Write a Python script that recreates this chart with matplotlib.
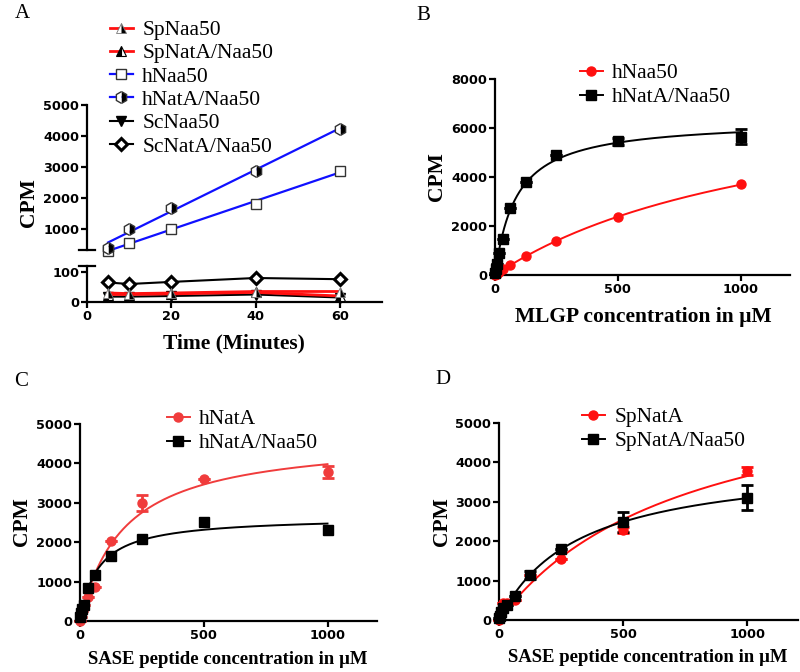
import numpy as np
import matplotlib
matplotlib.use("Agg")
import matplotlib.pyplot as plt
from matplotlib.lines import Line2D

# ---------------- data ----------------
# Panel A: time course (minutes)
time_min = [5, 10, 20, 40, 60]
a_hNaa50 = [280, 560, 1000, 1800, 2880]
a_hNatA_Naa50 = [400, 1000, 1680, 2880, 4230]
a_SpNaa50 = [30, 28, 30, 35, 35]
a_SpNatA_Naa50 = [25, 25, 27, 32, 20]
a_ScNaa50 = [18, 18, 20, 25, 15]
a_ScNatA_Naa50 = [65, 60, 67, 80, 76]

# Panel B: MLGP
conc = [0, 3.9, 7.8, 15.6, 31.25, 62.5, 125, 250, 500, 1000]
b_hNaa50 = [0, 30, 60, 110, 230, 420, 780, 1400, 2350, 3700]
b_hNatA_Naa50 = [100, 250, 450, 900, 1450, 2750, 3800, 4900, 5450, 5650]
b_hNatA_Naa50_err = [0, 0, 0, 0, 0, 0, 0, 0, 150, 320]

# Panel C: SASE, human
c_hNatA = [0, 100, 250, 400, 620, 870, 2020, 3000, 3600, 3780]
c_hNatA_err = [0, 0, 0, 0, 0, 0, 0, 200, 0, 150]
c_hNatA_Naa50 = [100, 200, 300, 400, 830, 1170, 1650, 2080, 2520, 2300]

# Panel D: SASE, S. pombe
d_SpNatA = [0, 100, 200, 420, 420, 500, 1150, 1540, 2280, 3780]
d_SpNatA_err = [0, 0, 0, 0, 0, 0, 0, 0, 70, 100]
d_SpNatA_Naa50 = [50, 100, 200, 300, 380, 600, 1150, 1800, 2480, 3100]
d_SpNatA_Naa50_err = [0, 0, 0, 0, 0, 0, 100, 0, 250, 320]

SERIF = "Liberation Serif"
TICKFONT = "DejaVu Sans"
RED = "#ff1010"
RED_C = "#f03c3c"
BLUE = "#1010ff"
LEGSIZE = 15.5


def mm_fit(x, y):
    x = np.asarray(x, float)
    y = np.asarray(y, float)
    Ks = np.linspace(1, 4000, 40000)
    F = x[None, :] / (Ks[:, None] + x[None, :])
    V = (F @ y) / (F * F).sum(1)
    sse = ((V[:, None] * F - y[None, :]) ** 2).sum(1)
    i = np.argmin(sse)
    return V[i], Ks[i]


def style_ax(ax):
    for s in ["top", "right"]:
        ax.spines[s].set_visible(False)
    for s in ["left", "bottom"]:
        ax.spines[s].set_linewidth(1.6)
    ax.tick_params(width=1.6, length=4, direction="out", pad=1.5)
    for lab in ax.get_xticklabels() + ax.get_yticklabels():
        lab.set_fontfamily(TICKFONT)
        lab.set_fontweight("bold")
        lab.set_fontsize(9.3)


fig = plt.figure(figsize=(8, 6.72), dpi=100)
W, H = 800.0, 672.0


def rect(l, r, t, b):
    return [l / W, 1 - b / H, (r - l) / W, (b - t) / H]


def ftext(x, y, s, **kw):
    fig.text(x / W, 1 - y / H, s, **kw)


def legend(handles, labels, x, y, spacing):
    fig.legend(handles, labels, loc="upper left", bbox_to_anchor=(x / W, 1 - y / H),
               frameon=False, borderpad=0, borderaxespad=0, handlelength=1.05,
               handletextpad=0.45, labelspacing=spacing,
               prop={"family": SERIF, "size": LEGSIZE})


# ---------------- Panel A ----------------
axA1 = fig.add_axes(rect(87, 382, 105, 250))
axA2 = fig.add_axes(rect(87, 382, 266, 302))

ms = 7.5
t = np.array(time_min, float)
xx = np.array([5, 60], float)
p1 = np.polyfit(t, a_hNaa50, 1)
p2 = np.polyfit(t, a_hNatA_Naa50, 1)
axA1.plot(xx, np.polyval(p1, xx), color=BLUE, lw=1.6, zorder=2)
axA1.plot(xx, np.polyval(p2, xx), color=BLUE, lw=1.6, zorder=2)
axA1.plot(t, a_hNaa50, ls="none", marker="s", ms=ms, mfc="white",
          mec="#333333", mew=1.0, clip_on=False, zorder=3)
axA1.plot(t, a_hNatA_Naa50, ls="none", marker="h", ms=ms + 1,
          fillstyle="right", mfc="black", mfcalt="white", mec="#333333",
          mew=1.0, clip_on=False, zorder=4)
axA1.set_xlim(0, 70)
axA1.set_ylim(320, 5000)
axA1.set_yticks([1000, 2000, 3000, 4000, 5000])
axA1.spines["bottom"].set_visible(False)
axA1.tick_params(axis="x", bottom=False, labelbottom=False)
style_ax(axA1)

kwl = dict(clip_on=False, zorder=5)
axA2.plot(t, a_ScNatA_Naa50, color="black", lw=1.5, marker="D", ms=6.5,
          mfc="white", mec="black", mew=2.2, **kwl)
axA2.plot(t, a_ScNaa50, color="black", lw=1.5, marker="v", ms=7, mfc="black",
          mec="black", **kwl)
axA2.plot(t, a_SpNatA_Naa50, color=RED, lw=2.0, marker="^", ms=7,
          fillstyle="left", mfc="black", mfcalt="white", mec="black", mew=0.8, **kwl)
axA2.plot(t, a_SpNaa50, color=RED, lw=2.0, marker="^", ms=7,
          fillstyle="right", mfc="black", mfcalt="white", mec="#777777", mew=0.6, **kwl)
axA2.set_xlim(0, 70)
axA2.set_ylim(0, 120)
axA2.set_yticks([0, 100])
axA2.set_xticks([0, 20, 40, 60])
style_ax(axA2)
for ax, yv in [(axA1, 320), (axA2, 120)]:
    ax.plot([-1.8, 1.8], [yv, yv], color="black", lw=1.6, clip_on=False)

legA = [
    Line2D([], [], color=RED, lw=2, marker="^", ms=7, fillstyle="right",
           mfc="black", mfcalt="white", mec="#777777", mew=0.6),
    Line2D([], [], color=RED, lw=2, marker="^", ms=7, fillstyle="left",
           mfc="black", mfcalt="white", mec="black", mew=0.8),
    Line2D([], [], color=BLUE, lw=1.6, marker="s", ms=ms, mfc="white", mec="#333333"),
    Line2D([], [], color=BLUE, lw=1.6, marker="h", ms=ms + 1, fillstyle="right",
           mfc="black", mfcalt="white", mec="#333333"),
    Line2D([], [], color="black", lw=1.5, marker="v", ms=7, mfc="black", mec="black"),
    Line2D([], [], color="black", lw=1.5, marker="D", ms=6.5, mfc="white",
           mec="black", mew=2.2),
]
labsA = ["SpNaa50", "SpNatA/Naa50", "hNaa50", "hNatA/Naa50", "ScNaa50", "ScNatA/Naa50"]
legend(legA, labsA, 110, 20, 0.15)

ftext(29, 203, "CPM", rotation=90, ha="center", va="center", family=SERIF,
      weight="bold", size=15.5)
ftext(234, 343, "Time (Minutes)", ha="center", va="center", family=SERIF,
      weight="bold", size=15.5)
ftext(22, 14, "A", ha="center", va="center", family=SERIF, size=15)

# ---------------- Panel B ----------------
axB = fig.add_axes(rect(495, 790, 79, 275))
cx = np.asarray(conc, float)
xs = np.linspace(0, 1000, 400)
V, K = mm_fit(cx, b_hNaa50)
axB.plot(xs, V * xs / (K + xs), color=RED, lw=1.4)
V, K = mm_fit(cx, b_hNatA_Naa50)
axB.plot(xs, V * xs / (K + xs), color="black", lw=1.4)
axB.errorbar(cx, b_hNaa50, ls="none", marker="o", ms=6.5, color=RED,
             clip_on=False, zorder=4)
axB.errorbar(cx, b_hNatA_Naa50, yerr=b_hNatA_Naa50_err, ls="none", marker="s",
             ms=6.5, color="black", capsize=4, elinewidth=2, capthick=2,
             clip_on=False, zorder=4)
axB.set_xlim(0, 1200)
axB.set_ylim(0, 8000)
axB.set_xticks([0, 500, 1000])
axB.set_yticks([0, 2000, 4000, 6000, 8000])
style_ax(axB)
legB = [Line2D([], [], color=RED, lw=1.4, marker="o", ms=6.5),
        Line2D([], [], color="black", lw=1.4, marker="s", ms=6.5)]
legend(legB, ["hNaa50", "hNatA/Naa50"], 580, 63, 0.2)
ftext(437, 177, "CPM", rotation=90, ha="center", va="center", family=SERIF,
      weight="bold", size=15.5)
ftext(643, 317, "MLGP concentration in \u00b5M", ha="center", va="center",
      family=SERIF, weight="bold", size=15.5)
ftext(423, 16, "B", ha="center", va="center", family=SERIF, size=15)

# ---------------- Panel C ----------------
axC = fig.add_axes(rect(80, 377, 424, 621))
V, K = mm_fit(cx, c_hNatA)
axC.plot(xs, V * xs / (K + xs), color=RED_C, lw=1.4)
V, K = mm_fit(cx, c_hNatA_Naa50)
axC.plot(xs, V * xs / (K + xs), color="black", lw=1.4)
axC.errorbar(cx, c_hNatA, yerr=c_hNatA_err, ls="none", marker="o", ms=6.5,
             color=RED_C, capsize=4, elinewidth=2, capthick=2, clip_on=False, zorder=4)
axC.errorbar(cx, c_hNatA_Naa50, ls="none", marker="s", ms=6.5, color="black",
             clip_on=False, zorder=4)
axC.set_xlim(0, 1200)
axC.set_ylim(0, 5000)
axC.set_xticks([0, 500, 1000])
axC.set_yticks([0, 1000, 2000, 3000, 4000, 5000])
style_ax(axC)
legC = [Line2D([], [], color=RED_C, lw=1.4, marker="o", ms=6.5),
        Line2D([], [], color="black", lw=1.4, marker="s", ms=6.5)]
legend(legC, ["hNatA", "hNatA/Naa50"], 167, 409, 0.2)
ftext(22, 522, "CPM", rotation=90, ha="center", va="center", family=SERIF,
      weight="bold", size=15.5)
ftext(228, 660, "SASE peptide concentration in \u00b5M", ha="center", va="center",
      family=SERIF, weight="bold", size=13.5)
ftext(21, 382, "C", ha="center", va="center", family=SERIF, size=15)

# ---------------- Panel D ----------------
axD = fig.add_axes(rect(499, 798, 423, 620))
V, K = mm_fit(cx, d_SpNatA)
axD.plot(xs, V * xs / (K + xs), color=RED, lw=1.4)
V, K = mm_fit(cx, d_SpNatA_Naa50)
axD.plot(xs, V * xs / (K + xs), color="black", lw=1.4)
axD.errorbar(cx, d_SpNatA, yerr=d_SpNatA_err, ls="none", marker="o", ms=6.5,
             color=RED, capsize=4, elinewidth=2, capthick=2, clip_on=False, zorder=4)
axD.errorbar(cx, d_SpNatA_Naa50, yerr=d_SpNatA_Naa50_err, ls="none", marker="s",
             ms=6.5, color="black", capsize=4, elinewidth=2, capthick=2,
             clip_on=False, zorder=4)
axD.set_xlim(0, 1205)
axD.set_ylim(0, 5000)
axD.set_xticks([0, 500, 1000])
axD.set_yticks([0, 1000, 2000, 3000, 4000, 5000])
style_ax(axD)
legD = [Line2D([], [], color=RED, lw=1.4, marker="o", ms=6.5),
        Line2D([], [], color="black", lw=1.4, marker="s", ms=6.5)]
legend(legD, ["SpNatA", "SpNatA/Naa50"], 582, 407, 0.2)
ftext(442, 522, "CPM", rotation=90, ha="center", va="center", family=SERIF,
      weight="bold", size=15.5)
ftext(648, 658, "SASE peptide concentration in \u00b5M", ha="center", va="center",
      family=SERIF, weight="bold", size=13.5)
ftext(443, 380, "D", ha="center", va="center", family=SERIF, size=15)

fig.savefig("out.png", dpi=100)
